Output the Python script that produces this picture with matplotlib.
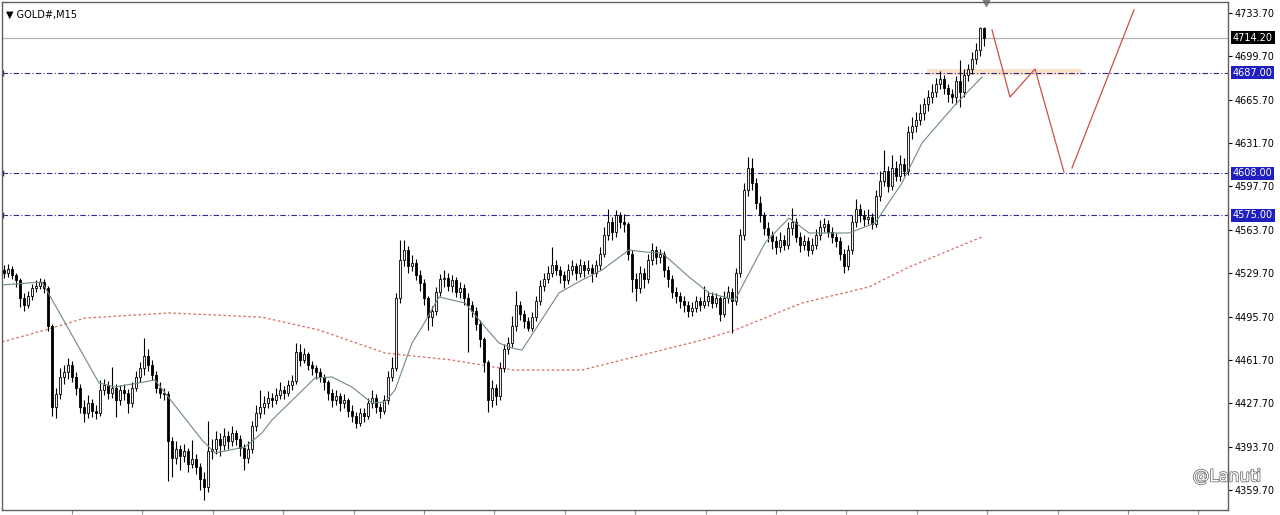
import matplotlib
matplotlib.use("Agg")
import matplotlib.pyplot as plt
import matplotlib.patheffects as pe
from matplotlib.transforms import blended_transform_factory
import numpy as np

# GOLD#, M15 candles
first_open = 4532
closes = [
    4530, 4533, 4528, 4524, 4510, 4505, 4512, 4518, 4520, 4523,
    4518, 4488, 4425, 4435, 4448, 4452, 4458, 4448, 4440, 4425,
    4420, 4428, 4422, 4420, 4438, 4442, 4436, 4440, 4430, 4438,
    4436, 4428, 4440, 4448, 4455, 4465, 4458, 4450, 4440, 4436,
    4435, 4398, 4385, 4392, 4386, 4390, 4380, 4384, 4378, 4368,
    4362, 4390, 4392, 4400, 4395, 4402, 4398, 4404, 4400, 4393,
    4385, 4392, 4410, 4420, 4425, 4428, 4432, 4430, 4434, 4438,
    4436, 4442, 4445, 4468, 4462, 4466, 4458, 4455, 4452, 4448,
    4444, 4436, 4430, 4433, 4428, 4430, 4422, 4418, 4412, 4420,
    4418, 4428, 4432, 4425, 4422, 4430, 4448, 4455, 4510, 4540,
    4548, 4535, 4538, 4528, 4522, 4510, 4495, 4500, 4515, 4525,
    4526, 4520, 4524, 4515, 4518, 4510, 4505, 4500, 4490, 4478,
    4460, 4430, 4440, 4433, 4455, 4470, 4475, 4488, 4505, 4498,
    4492, 4487, 4495, 4508, 4520, 4525, 4530, 4536, 4532, 4528,
    4524, 4532, 4535, 4530, 4536, 4532, 4534, 4530, 4536, 4545,
    4560, 4570, 4562, 4575, 4570, 4568, 4545, 4525, 4518, 4530,
    4525, 4540, 4548, 4542, 4545, 4532, 4525, 4515, 4512, 4508,
    4505, 4500, 4502, 4508, 4505, 4508, 4512, 4506, 4510, 4498,
    4510, 4515, 4508, 4530, 4560, 4595, 4612, 4600, 4585, 4575,
    4565, 4560, 4555, 4550, 4556, 4552, 4565, 4570, 4558, 4552,
    4555, 4548, 4552, 4560, 4566, 4568, 4562, 4558, 4555, 4545,
    4535, 4548, 4570, 4580, 4575, 4572, 4574, 4568, 4590, 4602,
    4610, 4598, 4612, 4606, 4615, 4610, 4640, 4645, 4650, 4655,
    4662, 4668, 4672, 4678, 4682, 4675, 4670, 4668, 4680, 4672,
    4685, 4690, 4698, 4705, 4722, 4714.2,
]
highs = [
    4536, 4537, 4535, 4530, 4526, 4514, 4516, 4521, 4524, 4526,
    4525, 4520, 4490, 4440, 4455, 4458, 4463, 4461, 4452, 4443,
    4430, 4434, 4431, 4426, 4446, 4447, 4445, 4456, 4443, 4442,
    4443, 4439, 4444, 4453, 4460, 4479, 4470, 4462, 4453, 4444,
    4440, 4437, 4401, 4398, 4395, 4396, 4393, 4399, 4388, 4381,
    4374, 4414, 4400, 4406, 4404, 4408, 4406, 4410, 4407, 4403,
    4396, 4398, 4414, 4426, 4438, 4433, 4437, 4436, 4440, 4444,
    4441, 4446, 4450, 4475, 4474, 4471, 4468, 4461, 4458, 4455,
    4451, 4446, 4439, 4438, 4436, 4435, 4432, 4426, 4421, 4424,
    4424, 4432, 4438, 4435, 4428, 4434, 4453, 4464, 4514, 4556,
    4556, 4551, 4544, 4541, 4532, 4525, 4512, 4504, 4519, 4529,
    4532, 4530, 4528, 4527, 4523, 4521, 4514, 4508, 4503, 4493,
    4480, 4462, 4446, 4443, 4460, 4474, 4480, 4496, 4516, 4508,
    4501, 4495, 4499, 4512, 4524, 4530, 4535, 4550, 4540, 4535,
    4531, 4537, 4540, 4538, 4541, 4539, 4540, 4537, 4540, 4550,
    4566, 4580, 4574, 4579, 4578, 4576, 4570, 4548, 4530, 4535,
    4534, 4545, 4553, 4551, 4549, 4547, 4535, 4528, 4519, 4515,
    4512, 4508, 4507, 4512, 4511, 4520, 4516, 4515, 4514, 4512,
    4516, 4520, 4518, 4534, 4564, 4600, 4621, 4620, 4604, 4590,
    4578, 4570, 4563, 4559, 4562, 4560, 4570, 4581, 4573, 4562,
    4560, 4558, 4557, 4564, 4571, 4573, 4571, 4566, 4561, 4558,
    4549, 4552, 4575, 4588, 4584, 4579, 4580, 4577, 4595, 4610,
    4626, 4614, 4622, 4618, 4622, 4620, 4645, 4652, 4656, 4662,
    4667, 4673, 4678, 4683, 4688, 4685, 4678, 4674, 4684, 4697,
    4690, 4694, 4703, 4710, 4723, 4723,
]
lows = [
    4526, 4527, 4525, 4519, 4503, 4500, 4502, 4509, 4515, 4517,
    4514, 4484, 4418, 4416, 4431, 4443, 4447, 4444, 4434, 4420,
    4413, 4416, 4417, 4415, 4418, 4434, 4431, 4432, 4417, 4426,
    4430, 4420, 4425, 4437, 4444, 4450, 4453, 4446, 4436, 4432,
    4430, 4367, 4370, 4380, 4375, 4382, 4374, 4377, 4372, 4360,
    4352, 4358, 4384, 4388, 4386, 4391, 4392, 4394, 4395, 4386,
    4375, 4381, 4389, 4406, 4416, 4419, 4424, 4425, 4427, 4431,
    4431, 4433, 4438, 4443, 4457, 4459, 4454, 4450, 4447, 4444,
    4438, 4430, 4425, 4426, 4422, 4424, 4417, 4413, 4408, 4410,
    4413, 4415, 4424, 4420, 4416, 4419, 4427, 4445, 4453, 4506,
    4535, 4530, 4531, 4524, 4516, 4505, 4485, 4488, 4497, 4512,
    4519, 4516, 4515, 4511, 4510, 4505, 4468, 4495, 4485, 4472,
    4452, 4421, 4425, 4426, 4430, 4452, 4466, 4472, 4484, 4493,
    4487, 4484, 4484, 4492, 4505, 4516, 4522, 4527, 4528, 4522,
    4518, 4521, 4528, 4524, 4527, 4527, 4529, 4523, 4527, 4532,
    4542, 4556, 4556, 4558, 4565, 4562, 4540, 4515, 4508, 4514,
    4518, 4522, 4536, 4537, 4538, 4527, 4519, 4510, 4506, 4502,
    4499, 4495, 4496, 4499, 4500, 4502, 4504, 4502, 4503, 4492,
    4495, 4506, 4483, 4505, 4527, 4556, 4590, 4595, 4580, 4570,
    4560, 4554, 4549, 4545, 4546, 4548, 4549, 4560, 4554, 4546,
    4548, 4543, 4545, 4549, 4556, 4562, 4558, 4553, 4550, 4540,
    4530, 4532, 4545, 4566, 4570, 4567, 4568, 4564, 4566, 4586,
    4598, 4593, 4595, 4602, 4602, 4606, 4607, 4635, 4640, 4646,
    4650, 4657, 4663, 4668, 4674, 4670, 4664, 4663, 4662, 4660,
    4668, 4680, 4686, 4694, 4700, 4708,
]

# moving averages (bar index, price)
ma_fast_idx = [-0.5, 9.5, 23.75, 27.75, 37.75, 49.5, 52.75, 60.25, 64.5, 67,
               77.75, 82, 87, 92, 95.25, 97.75, 102, 104.5, 108.75, 115.25,
               120.25, 123.75, 127, 129.5, 132.75, 138.75, 144.5, 149.5, 156.25, 160.25,
               164.5, 171.25, 176.25, 182.75, 190.25, 196.25, 201.25, 211.25, 217.75, 224.5,
               229.5, 237.75, 244.5]
ma_fast_val = [4520.4, 4522.8, 4443.6, 4440.4, 4445.9, 4398.9, 4388.7, 4393.4, 4404.4, 4414.6,
               4447.5, 4448.3, 4440.4, 4427.9, 4428.7, 4438.1, 4474.9, 4487.5, 4511.0, 4506.3,
               4487.5, 4474.9, 4471.0, 4469.4, 4485.1, 4514.2, 4524.3, 4532.2, 4547.9, 4546.3,
               4545.5, 4526.7, 4514.2, 4508.7, 4553.4, 4572.9, 4561.2, 4561.2, 4569.0, 4600.4,
               4631.8, 4661.6, 4683.5]
ma_slow_idx = [-0.5, 10.25, 20.25, 41.25, 64.5, 78.75, 95.25, 112, 127, 144.5,
               164.5, 174.5, 182.75, 199.5, 216.25, 226.25, 244.5]
ma_slow_val = [4475.7, 4485.1, 4494.5, 4498.5, 4495.2, 4485.1, 4467.1, 4461.6, 4453.8, 4453.8,
               4469.4, 4477.3, 4485.1, 4506.3, 4518.9, 4534.5, 4558.1]

# hand-drawn forecast path
path1_idx = [247, 251.5, 257.75, 265]
path1_val = [4720.4, 4667.8, 4689.8, 4609.0]
path2_idx = [267, 282.5]
path2_val = [4612.2, 4736.1]

# levels
bid_price = 4714.20
levels = [4687.00, 4608.00, 4575.00]
zone_idx = [230.75, 269.5]
zone_low, zone_high = 4685.0, 4690.0

yticks = [4733.70, 4699.70, 4665.70, 4631.70, 4597.70, 4563.70,
          4529.70, 4495.70, 4461.70, 4427.70, 4393.70, 4359.70]

fig = plt.figure(figsize=(12.8, 5.15), dpi=100)
ax = fig.add_axes([2 / 1280, 5 / 515, 1226 / 1280, 508 / 515])

closes = np.array(closes, dtype=float)
opens = np.concatenate([[first_open], closes[:-1]])
highs = np.array(highs, dtype=float)
lows = np.array(lows, dtype=float)
idx = np.arange(len(closes))
bull = closes >= opens

# zone + level lines behind the candles
ax.fill_between(zone_idx, zone_low, zone_high, color="#f7c9a3", alpha=0.55, lw=0, zorder=1)
ax.axhline(bid_price, color="#b0b4bc", lw=0.9, zorder=1)
for lv in levels:
    ax.axhline(lv, color="#2c2c8c", lw=0.8, dashes=(5, 2, 1, 2), zorder=1)
    ax.plot([-0.3], [lv], marker="|", color="#2c2c8c", markersize=4, zorder=1)

ax.plot(ma_slow_idx, ma_slow_val, color="#d8685c", lw=0.9, dashes=(2, 2), zorder=2)

# candles
ax.vlines(idx, lows, highs, color="black", lw=0.8, zorder=3)
ax.bar(idx[bull], (closes - opens)[bull], bottom=opens[bull], width=0.7,
       color="#f2f2f2", edgecolor="black", lw=0.6, zorder=4)
ax.bar(idx[~bull], (opens - closes)[~bull], bottom=closes[~bull], width=0.7,
       color="black", edgecolor="black", lw=0.6, zorder=4)

ax.plot(ma_fast_idx, ma_fast_val, color="#6f8c7c", lw=0.8, zorder=5)

# forecast lines
ax.plot(path1_idx, path1_val, color="#cc4f4a", lw=0.9, zorder=5)
ax.plot(path2_idx, path2_val, color="#cc4f4a", lw=0.9, zorder=5)

ax.set_xlim(-0.5, 306)
ax.set_ylim(4344.0, 4742.3)

# price axis on the right
ax.yaxis.tick_right()
ax.set_yticks(yticks)
ax.set_yticklabels([f"{v:.2f}" for v in yticks])
ax.tick_params(axis="y", labelsize=7, length=3, pad=2, colors="black")
ax.set_xticks(np.arange(17, 306, 17.6))
ax.set_xticklabels([])
ax.tick_params(axis="x", length=3, direction="out", colors="#888888")
for s in ax.spines.values():
    s.set_color("#606060")
    s.set_linewidth(1)

# price boxes
trans = blended_transform_factory(ax.transAxes, ax.transData)
ax.text(1.004, bid_price, f"{bid_price:.2f}", transform=trans, fontsize=7, color="white",
        va="center", ha="left", bbox=dict(facecolor="black", edgecolor="none", pad=1.2))
for lv in levels:
    ax.text(1.004, lv, f"{lv:.2f}", transform=trans, fontsize=7, color="white",
            va="center", ha="left", bbox=dict(facecolor="#1f1fc0", edgecolor="none", pad=1.2))

# current bar marker on top edge
ax.plot([idx[-1] + 0.5], [1.0], marker="v", color="#808080", markersize=6,
        transform=blended_transform_factory(ax.transData, ax.transAxes), clip_on=False)

ax.text(0.003, 0.985, "\u25bc GOLD#,M15", transform=ax.transAxes, fontsize=7,
        va="top", ha="left", color="black")

# watermark
fig.text(0.985, 0.075, "@Lanuti", fontsize=12, color="white", ha="right", va="center",
         path_effects=[pe.withStroke(linewidth=1.2, foreground="#777777")])

fig.savefig("out.png", dpi=100)
